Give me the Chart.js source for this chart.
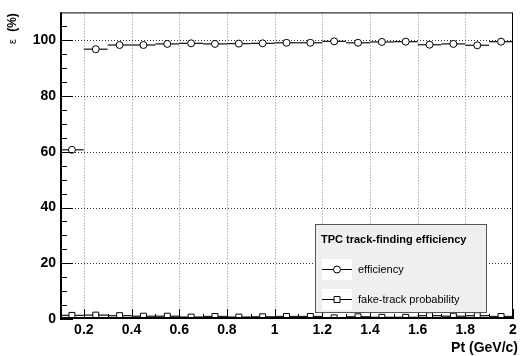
<!DOCTYPE html>
<html>
<head>
<meta charset="utf-8">
<script src="https://cdn.jsdelivr.net/npm/chart.js@4.4.0/dist/chart.umd.min.js"></script>
<style>
html,body{margin:0;padding:0;background:#fff;}
canvas{display:block;}
</style>
</head>
<body>
<canvas id="c" width="520" height="356"></canvas>
<script>
// ---- data ----
const binCenters = [0.15,0.25,0.35,0.45,0.55,0.65,0.75,0.85,0.95,1.05,1.15,1.25,1.35,1.45,1.55,1.65,1.75,1.85,1.95];
const binHalfWidth = 0.05;
const efficiency = [60.7,96.8,98.3,98.3,98.7,98.9,98.7,98.8,98.9,99.1,99.1,99.6,99.1,99.4,99.5,98.4,98.7,98.2,99.5];
const fakeProb = [1.3,1.4,1.2,1.0,1.0,0.7,0.9,0.7,0.8,0.9,0.9,0.4,0.8,0.6,0.6,1.2,1.0,1.2,0.9];
const xTicks = [0.2,0.4,0.6,0.8,1.0,1.2,1.4,1.6,1.8,2.0];
const xTickLabels = ['0.2','0.4','0.6','0.8','1','1.2','1.4','1.6','1.8','2'];
const xMinorTicks = [0.1,0.3,0.5,0.7,0.9,1.1,1.3,1.5,1.7,1.9];
const yTicks = [0,20,40,60,80,100];
const yMinorTicks = [5,10,15,25,30,35,45,50,55,65,70,75,85,90,95,105];
const legendTitle = 'TPC track-finding efficiency';
const seriesNames = ['efficiency','fake-track probability'];
const xTitle = 'Pt (GeV/c)';

const FONT = '"Liberation Sans", Arial, Helvetica, sans-serif';

const rootPlugin = {
  id: 'rootStyle',
  beforeDatasetsDraw(chart) {
    const ctx = chart.ctx, a = chart.chartArea;
    const xs = chart.scales.x, ys = chart.scales.y;
    ctx.save();
    // grid
    ctx.lineWidth = 1;
    ctx.setLineDash([1,2]);
    ctx.strokeStyle = '#888';
    xTicks.forEach(v => {
      const px = Math.round(xs.getPixelForValue(v)) + 0.5;
      if (px > a.left + 2 && px < a.right - 2) {
        ctx.beginPath(); ctx.moveTo(px, a.top); ctx.lineTo(px, a.bottom); ctx.stroke();
      }
    });
    ctx.strokeStyle = '#333';
    yTicks.forEach(v => {
      const py = Math.round(ys.getPixelForValue(v)) + 0.5;
      if (py > a.top + 2 && py < a.bottom - 2) {
        ctx.beginPath(); ctx.moveTo(a.left, py); ctx.lineTo(a.right, py); ctx.stroke();
      }
    });
    ctx.setLineDash([]);
    // error bars (horizontal: bin width)
    ctx.strokeStyle = '#222';
    ctx.lineWidth = 1.3;
    chart.data.datasets.forEach(ds => {
      ds.data.forEach(p => {
        const x1 = xs.getPixelForValue(p.x - binHalfWidth);
        const x2 = xs.getPixelForValue(p.x + binHalfWidth);
        const py = ys.getPixelForValue(p.y);
        ctx.beginPath(); ctx.moveTo(x1, py); ctx.lineTo(x2, py); ctx.stroke();
      });
    });
    ctx.restore();
  },
  afterDatasetsDraw(chart) {
    const ctx = chart.ctx, a = chart.chartArea;
    const xs = chart.scales.x, ys = chart.scales.y;
    ctx.save();
    // frame
    ctx.strokeStyle = '#000';
    ctx.lineWidth = 1;
    ctx.strokeRect(a.left + 0.5, a.top + 0.5, a.right - a.left - 1, a.bottom - a.top - 1);
    ctx.lineWidth = 2;
    ctx.beginPath();
    ctx.moveTo(a.left + 1, a.top); ctx.lineTo(a.left + 1, a.bottom);
    ctx.moveTo(a.left, a.bottom - 1); ctx.lineTo(a.right, a.bottom - 1);
    ctx.stroke();
    // ticks
    ctx.lineWidth = 1;
    ctx.beginPath();
    yTicks.forEach(v => {
      const py = Math.round(ys.getPixelForValue(v)) + 0.5;
      ctx.moveTo(a.left, py); ctx.lineTo(a.left + 13, py);
    });
    yMinorTicks.forEach(v => {
      const py = Math.round(ys.getPixelForValue(v)) + 0.5;
      ctx.moveTo(a.left, py); ctx.lineTo(a.left + 7, py);
    });
    xTicks.forEach(v => {
      const px = Math.round(xs.getPixelForValue(v)) + 0.5;
      ctx.moveTo(px, a.bottom); ctx.lineTo(px, a.bottom - 10);
    });
    xMinorTicks.forEach(v => {
      const px = Math.round(xs.getPixelForValue(v)) + 0.5;
      ctx.moveTo(px, a.bottom); ctx.lineTo(px, a.bottom - 5);
    });
    ctx.stroke();

    // legend
    const lx = 315, ly = 224, lw = 171, lh = 88;
    ctx.fillStyle = '#efefef';
    ctx.fillRect(lx, ly, lw, lh);
    ctx.strokeStyle = '#555';
    ctx.lineWidth = 1;
    ctx.strokeRect(lx + 0.5, ly + 0.5, lw, lh);
    ctx.fillStyle = '#000';
    ctx.font = 'bold 11px ' + FONT;
    ctx.textBaseline = 'alphabetic';
    ctx.textAlign = 'left';
    ctx.fillText(legendTitle, 321, 243);
    const rows = [269, 299];
    rows.forEach((ry, i) => {
      ctx.fillStyle = '#fff';
      ctx.fillRect(322, ry - 10, 30, 21);
      ctx.strokeStyle = '#000';
      ctx.lineWidth = 1;
      ctx.beginPath(); ctx.moveTo(322, ry + 0.5); ctx.lineTo(352, ry + 0.5); ctx.stroke();
      ctx.fillStyle = '#fff';
      ctx.beginPath();
      if (i === 0) { ctx.arc(337, ry + 0.5, 3.5, 0, Math.PI * 2); }
      else { ctx.rect(334, ry - 2.5, 6, 6); }
      ctx.fill(); ctx.stroke();
      ctx.fillStyle = '#000';
      ctx.font = '11px ' + FONT;
      ctx.textBaseline = 'middle';
      ctx.fillText(seriesNames[i], 358, ry + 0.5);
    });

    // axis titles
    ctx.font = 'bold 14px ' + FONT;
    ctx.textAlign = 'right';
    ctx.textBaseline = 'alphabetic';
    ctx.fillText(xTitle, 518, 352);

    ctx.translate(13, 0);
    ctx.rotate(-Math.PI / 2);
    ctx.textAlign = 'center';
    ctx.textBaseline = 'middle';
    ctx.font = 'bold 12px ' + FONT;
    ctx.fillText('(%)', -22.5, 0);
    ctx.font = '11px ' + FONT;
    ctx.fillText('\u03b5', -41.5, 0);
    ctx.restore();
  }
};

const markerCommon = {
  backgroundColor: '#fff',
  borderColor: '#000',
  borderWidth: 1,
  showLine: false
};

new Chart(document.getElementById('c'), {
  type: 'scatter',
  data: {
    datasets: [
      Object.assign({
        label: seriesNames[0],
        data: binCenters.map((x, i) => ({x: x, y: efficiency[i]})),
        pointStyle: 'circle', pointRadius: 3.5, pointHoverRadius: 3.5
      }, markerCommon),
      Object.assign({
        label: seriesNames[1],
        data: binCenters.map((x, i) => ({x: x, y: fakeProb[i]})),
        pointStyle: 'rect', pointRadius: 4.2, pointHoverRadius: 4.2
      }, markerCommon)
    ]
  },
  options: {
    responsive: false,
    animation: false,
    devicePixelRatio: 1,
    layout: {padding: {top: 12, right: 7, left: 0, bottom: 0}},
    plugins: {legend: {display: false}, tooltip: {enabled: false}, title: {display: false}},
    scales: {
      x: {
        type: 'linear', min: 0.1, max: 2.0,
        grid: {display: false, drawTicks: false},
        border: {display: false},
        afterBuildTicks: s => { s.ticks = xTicks.map(v => ({value: v})); },
        afterFit: s => { s.height = 37; },
        ticks: {
          autoSkip: false, maxRotation: 0, padding: 3, color: '#000',
          font: {family: FONT, size: 14, weight: 'bold'},
          callback: (v) => { const i = xTicks.findIndex(t => Math.abs(t - v) < 1e-6); return i >= 0 ? xTickLabels[i] : ''; }
        }
      },
      y: {
        type: 'linear', min: 0, max: 110,
        grid: {display: false, drawTicks: false},
        border: {display: false},
        afterBuildTicks: s => { s.ticks = yTicks.map(v => ({value: v})); },
        afterFit: s => { s.width = 60; },
        ticks: {
          autoSkip: false, padding: 4, color: '#000',
          font: {family: FONT, size: 14, weight: 'bold'},
          callback: v => String(v)
        }
      }
    }
  },
  plugins: [rootPlugin]
});
</script>
</body>
</html>
